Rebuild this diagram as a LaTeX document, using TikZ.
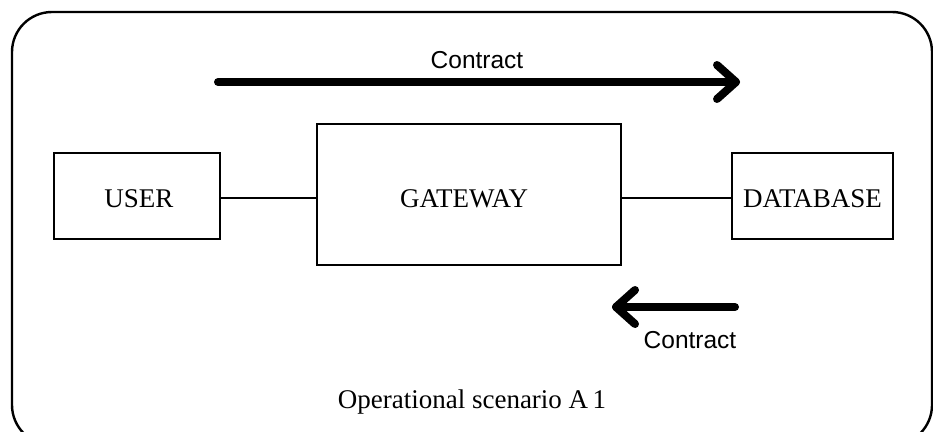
\documentclass[tikz,border=0pt]{standalone}
\usepackage{fontspec}
\setmainfont{Liberation Serif}
\newfontfamily\lblsans{Liberation Sans}
\begin{document}
\begin{tikzpicture}[x=1pt,y=-1pt,
  box/.style={draw, line width=1.8pt, inner sep=0pt},
  lbl/.style={font=\fontsize{27}{29}\selectfont},
  flow/.style={line width=8pt, line cap=round, line join=round},
  link/.style={line width=1.8pt},
  ctext/.style={font=\lblsans\fontsize{24.5}{26}\selectfont, inner sep=0pt, anchor=base}]
\useasboundingbox (0,0) rectangle (933,431);
\clip (0,0) rectangle (933,431);
\draw[line width=2.4pt, rounded corners=40pt] (12,12) rectangle (932,445);
% boxes
\node[box, minimum width=166pt, minimum height=86pt] (user) at (137,196) {};
\node[box, minimum width=304pt, minimum height=141pt] (gw) at (469,194.5) {};
\node[box, minimum width=161pt, minimum height=86pt] (db) at (812.5,196) {};
\node[lbl, anchor=base] (userl) at (139,207) {USER};
\node[lbl, anchor=base] (gwl) at (464,207) {GATEWAY};
\node[lbl, anchor=base] (dbl) at (812.5,207) {DATABASE};
\draw[link] (user.east |- 0,198) -- (gw.west |- 0,198);
\draw[link] (gw.east |- 0,198) -- (db.west |- 0,198);
% contract arrows
\coordinate (a1s) at (218,82);
\coordinate (a1e) at (736,82);
\draw[flow] (a1s) -- (a1e);
\draw[flow] ([shift={(-19,-17)}]a1e) -- (a1e) -- ([shift={(-19,17)}]a1e);
\node[ctext] (c1) at (477,68) {Contract};
\coordinate (a2s) at (735,307);
\coordinate (a2e) at (616,307);
\draw[flow] (a2s) -- (a2e);
\draw[flow] ([shift={(19,-17)}]a2e) -- (a2e) -- ([shift={(19,17)}]a2e);
\node[ctext] (c2) at (690,348) {Contract};
\node[lbl, anchor=base] (cap) at (472,408) {Operational scenario A\,1};
\end{tikzpicture}
\end{document}
